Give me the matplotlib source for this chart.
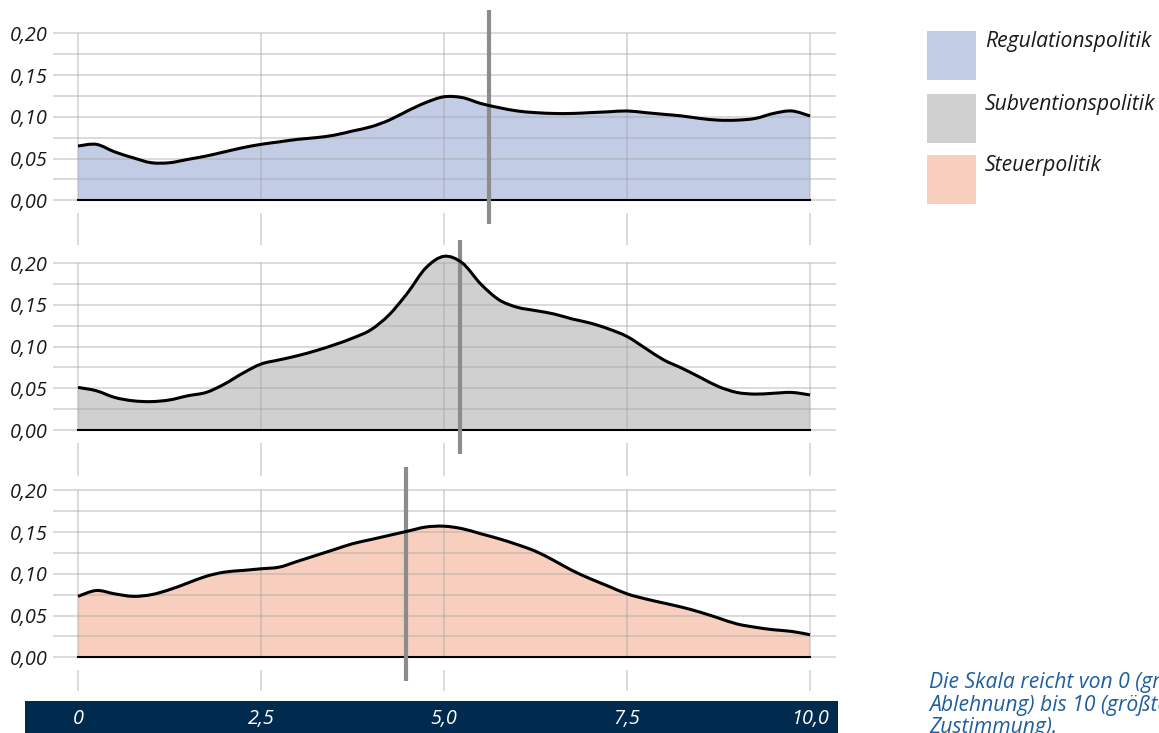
import numpy as np
import matplotlib.pyplot as plt
from matplotlib.patches import Rectangle, PathPatch
from matplotlib.path import Path

plt.rcParams['font.family'] = ['Open Sans', 'DejaVu Sans']

# ----- Daten -----
x_scale = np.linspace(0, 10, 41)  # Ablesepunkte der Skala (Schritt 0,25)

regulation = [0.065, 0.067, 0.058, 0.051, 0.045, 0.045, 0.049, 0.053, 0.058, 0.063,
              0.067, 0.070, 0.073, 0.075, 0.078, 0.083, 0.088, 0.096, 0.107, 0.117,
              0.124, 0.123, 0.116, 0.111, 0.107, 0.105, 0.104, 0.104, 0.105, 0.106,
              0.107, 0.105, 0.103, 0.101, 0.098, 0.096, 0.096, 0.098, 0.104, 0.107,
              0.101]
subvention = [0.051, 0.047, 0.039, 0.035, 0.034, 0.036, 0.041, 0.045, 0.055, 0.068,
              0.079, 0.084, 0.089, 0.095, 0.102, 0.110, 0.120, 0.138, 0.164, 0.194,
              0.208, 0.200, 0.175, 0.156, 0.147, 0.143, 0.139, 0.133, 0.128, 0.121,
              0.112, 0.098, 0.084, 0.074, 0.063, 0.052, 0.045, 0.043, 0.044, 0.045,
              0.042]
steuer = [0.073, 0.080, 0.076, 0.073, 0.075, 0.081, 0.089, 0.097, 0.102, 0.104,
          0.106, 0.108, 0.115, 0.122, 0.129, 0.136, 0.141, 0.146, 0.151, 0.156,
          0.157, 0.154, 0.148, 0.142, 0.135, 0.127, 0.116, 0.104, 0.094, 0.085,
          0.076, 0.070, 0.065, 0.060, 0.054, 0.047, 0.040, 0.036, 0.033, 0.031,
          0.027]

series_names = ["Regulationspolitik", "Subventionspolitik", "Steuerpolitik"]
series_values = [regulation, subvention, steuer]
series_means = [5.61, 5.22, 4.48]

x_ticks = [0, 2.5, 5.0, 7.5, 10.0]
x_ticklabels = ["0", "2,5", "5,0", "7,5", "10,0"]
y_ticks = [0.0, 0.05, 0.10, 0.15, 0.20]

note = "Die Skala reicht von 0 (größter\nAblehnung) bis 10 (größter\nZustimmung)."

# ----- Stil -----
W, H = 1159, 733
fills = ["#c2cde5", "#d0d0d0", "#f8cfbe"]
grid_col = "#a0a0a0"
mean_col = "#8c8c8c"
navy = "#002a4e"
note_col = "#1f5f9f"
txt_col = "#1a1a1a"
fs_tick = 14.3
fs_leg = 15.2

zero_px = [200.3, 430.0, 657.3]
tick_seg_bottom = [-0.054, -0.055, -0.040]
px_per_unit = 835.0
ylo, yhi = -0.06, 0.235
xl, xr = -0.342, 10.355


def fx(px):
    return px / W


def fy(py):
    return 1 - py / H


def smooth_path(x, y):
    x = np.asarray(x, float)
    y = np.asarray(y, float)
    n = len(x)
    verts = [(x[0], y[0])]
    codes = [Path.MOVETO]
    for i in range(n - 1):
        i0, i2, i3 = max(i - 1, 0), i + 1, min(i + 2, n - 1)
        c1 = (x[i] + (x[i2] - x[i0]) / 6, y[i] + (y[i2] - y[i0]) / 6)
        c2 = (x[i2] - (x[i3] - x[i]) / 6, y[i2] - (y[i3] - y[i]) / 6)
        verts += [c1, c2, (x[i2], y[i2])]
        codes += [Path.CURVE4] * 3
    return verts, codes


fig = plt.figure(figsize=(W / 100, H / 100), dpi=100)

for i, (vals, fc, mean) in enumerate(zip(series_values, fills, series_means)):
    z = zero_px[i]
    top_px = z - yhi * px_per_unit
    bot_px = z - ylo * px_per_unit
    ax = fig.add_axes([fx(53), fy(bot_px), fx(836) - fx(53), (bot_px - top_px) / H])
    ax.set_facecolor("none")
    ax.set_xlim(xl, xr)
    ax.set_ylim(ylo, yhi)
    for s in ax.spines.values():
        s.set_visible(False)

    # Gitter
    for g in np.arange(0, 0.2001, 0.025):
        ax.axhline(g, color=grid_col, alpha=0.38, lw=1.4, zorder=2)
    ax.vlines(x_ticks, 0, 0.20, color=grid_col, alpha=0.38, lw=1.4, zorder=2)
    ax.vlines(x_ticks, -0.0155, tick_seg_bottom[i], color=grid_col, alpha=0.38,
              lw=1.4, zorder=2, clip_on=False)

    # Dichte
    verts, codes = smooth_path(x_scale, vals)
    area = Path(verts + [(x_scale[-1], 0), (x_scale[0], 0), (x_scale[0], vals[0])],
                codes + [Path.LINETO, Path.LINETO, Path.CLOSEPOLY])
    ax.add_patch(PathPatch(area, facecolor=fc, lw=0, zorder=1))
    ax.plot([x_scale[0], x_scale[-1]], [0, 0], color="black", lw=1.5, zorder=3)
    ax.vlines(mean, -0.0285, 0.2275, color=mean_col, lw=3, zorder=4)
    ax.add_patch(PathPatch(Path(verts, codes), facecolor="none", edgecolor="black",
                           lw=2.2, zorder=5, joinstyle="round", capstyle="butt"))

    ax.set_xticks([])
    ax.set_yticks(y_ticks)
    ax.set_yticklabels([f"{v:.2f}".replace(".", ",") for v in y_ticks],
                       fontsize=fs_tick, style="italic", color=txt_col)
    ax.tick_params(axis="y", length=0, pad=4)

# Skalenleiste unten
bar = fig.add_axes([fx(25), 0, fx(838) - fx(25), 32 / H])
bar.set_facecolor(navy)
bar.set_xlim(-0.724, 10.383)
bar.set_ylim(0, 1)
bar.set_xticks([])
bar.set_yticks([])
for s in bar.spines.values():
    s.set_visible(False)
for t, lab in zip(x_ticks, x_ticklabels):
    bar.text(t, 0.45, lab, color="white", fontsize=fs_tick, style="italic",
             ha="center", va="center")

# Legende
legend_top = [31, 94, 155]
for name, fc, top in zip(series_names, fills, legend_top):
    fig.add_artist(Rectangle((fx(927), fy(top + 49)), fx(49), 49 / H,
                             transform=fig.transFigure, color=fc, lw=0))
    fig.text(fx(985), fy(top), name, fontsize=fs_leg, style="italic",
             color=txt_col, ha="left", va="top")

fig.text(fx(929), fy(672), note, fontsize=fs_leg, style="italic", color=note_col,
         ha="left", va="top", linespacing=1.1)

fig.savefig("out.png", dpi=100)
